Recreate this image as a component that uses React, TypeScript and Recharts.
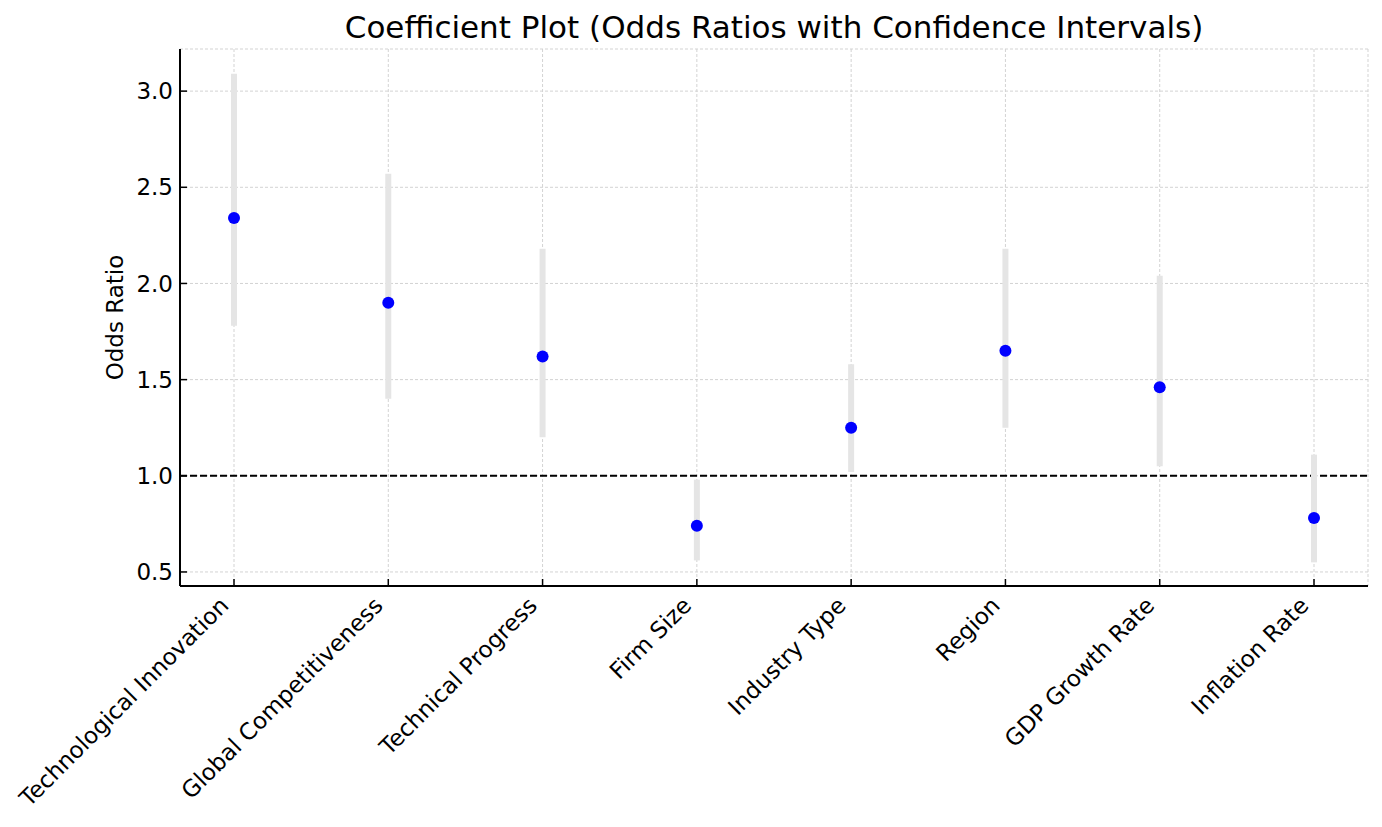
import { ScatterChart, Scatter, XAxis, YAxis, CartesianGrid, ReferenceLine, ErrorBar } from "recharts";

const CATEGORIES = [
  "Technological Innovation",
  "Global Competitiveness",
  "Technical Progress",
  "Firm Size",
  "Industry Type",
  "Region",
  "GDP Growth Rate",
  "Inflation Rate",
];
const ODDS_RATIOS = [2.34, 1.9, 1.62, 0.74, 1.25, 1.65, 1.46, 0.78];
const CI_LOWER = [1.78, 1.4, 1.2, 0.56, 1.02, 1.25, 1.05, 0.55];
const CI_UPPER = [3.09, 2.57, 2.18, 0.98, 1.58, 2.18, 2.04, 1.11];
const Y_TICKS = [0.5, 1.0, 1.5, 2.0, 2.5, 3.0];
const X_TICKS = CATEGORIES.map((_, i) => i);

const FONT = "'DejaVu Sans', sans-serif";
const W = 1382;
const H = 827;

const data = CATEGORIES.map((name, i) => ({
  idx: i,
  name,
  or: ODDS_RATIOS[i],
  err: [ODDS_RATIOS[i] - CI_LOWER[i], CI_UPPER[i] - ODDS_RATIOS[i]],
}));

function XTick(props: any) {
  const { x, y, payload } = props;
  const px = x - 4;
  const py = y + 28;
  return (
    <text
      x={px}
      y={py}
      textAnchor="end"
      fontSize={23}
      fontFamily={FONT}
      fill="#000"
      transform={`rotate(-45, ${px}, ${py})`}
    >
      {CATEGORIES[payload.value]}
    </text>
  );
}

function Dot(props: any) {
  const { cx, cy } = props;
  return <circle cx={cx} cy={cy} r={6} fill="#0000ff" />;
}

export default function App() {
  return (
    <div style={{ position: "absolute", left: 0, top: 0, width: W, height: H, background: "#fff" }}>
      <ScatterChart width={W} height={H} margin={{ top: 49, right: 14, bottom: 0, left: 0 }}>
        <CartesianGrid stroke="#d3d3d3" strokeDasharray="3 2" strokeWidth={1} />
        <XAxis
          type="number"
          dataKey="idx"
          domain={[-0.35, 7.35]}
          ticks={X_TICKS}
          interval={0}
          height={241}
          tickSize={-7}
          tickMargin={0}
          axisLine={{ stroke: "#000", strokeWidth: 2 }}
          tickLine={{ stroke: "#000", strokeWidth: 1.5 }}
          tick={<XTick />}
        />
        <YAxis
          type="number"
          dataKey="or"
          domain={[0.427, 3.219]}
          ticks={Y_TICKS}
          width={180}
          tickSize={-7}
          tickMargin={14}
          allowDataOverflow
          axisLine={{ stroke: "#000", strokeWidth: 2 }}
          tickLine={{ stroke: "#000", strokeWidth: 1.5 }}
          tick={{ fontSize: 23, fontFamily: FONT, fill: "#000" }}
          tickFormatter={(v: number) => v.toFixed(1)}
        />
        <ReferenceLine y={1} stroke="#000" strokeWidth={2} strokeDasharray="7 3" />
        <Scatter data={data} shape={<Dot />} isAnimationActive={false}>
          <ErrorBar dataKey="err" direction="y" width={0} stroke="#e5e5e5" strokeWidth={6} isAnimationActive={false} />
        </Scatter>
      </ScatterChart>
      <svg
        width={W}
        height={H}
        style={{ position: "absolute", left: 0, top: 0, pointerEvents: "none" }}
      >
        <text x={774} y={38} textAnchor="middle" fontSize={31} fontFamily={FONT} fill="#000">
          Coefficient Plot (Odds Ratios with Confidence Intervals)
        </text>
        <text
          x={123}
          y={317.5}
          textAnchor="middle"
          fontSize={23}
          fontFamily={FONT}
          fill="#000"
          transform="rotate(-90, 123, 317.5)"
        >
          Odds Ratio
        </text>
      </svg>
    </div>
  );
}
